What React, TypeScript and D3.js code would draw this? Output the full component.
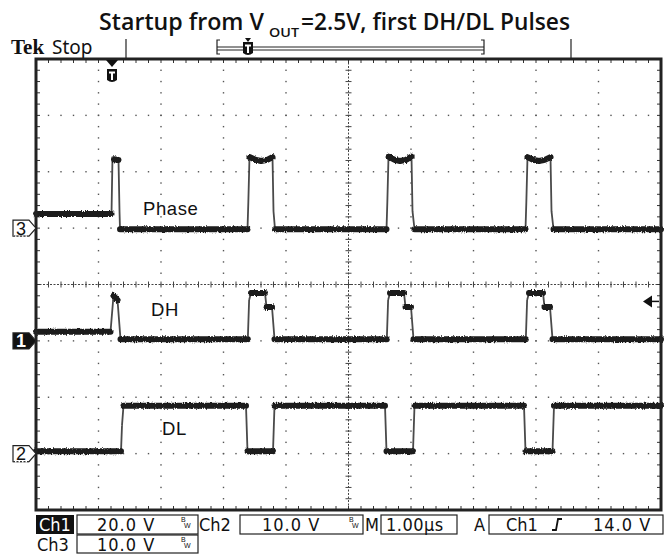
import React from "react";
import * as d3 from "d3";

// ---- Data (time in µs from left edge of graticule, values in volts) ----
const phaseT = [0, 1.208, 1.224, 1.248, 1.32, 1.336, 1.344, 3.384, 3.397, 3.416, 3.52, 3.6, 3.7, 3.784, 3.8, 3.824, 5.608, 5.621, 5.64, 5.74, 5.824, 5.92, 6.008, 6.024, 6.056, 7.832, 7.845, 7.864, 7.96, 8.048, 8.14, 8.232, 8.248, 8.28, 10];
const phaseV = [2.5, 2.5, 12.7, 12.2, 12.1, 3, -0.2, -0.2, 4.5, 12.6, 12.1, 11.9, 12.1, 12.6, 3, -0.2, -0.2, 4.5, 12.7, 12.1, 11.9, 12.1, 12.7, 3, -0.2, -0.2, 4.5, 12.6, 12.1, 11.9, 12.1, 12.6, 3, -0.2, -0.2];

const dhT = [0, 1.192, 1.24, 1.304, 1.352, 3.389, 3.41, 3.44, 3.664, 3.688, 3.776, 3.816, 5.613, 5.634, 5.664, 5.888, 5.912, 6.0, 6.04, 7.837, 7.858, 7.888, 8.112, 8.136, 8.224, 8.264, 10];
const dhV = [3.2, 3.2, 16, 14.5, 0.6, 0.6, 14.5, 17, 17, 12, 12, 0.6, 0.6, 14.5, 17, 17, 12, 12, 0.6, 0.6, 14.5, 17, 17, 12, 12, 0.6, 0.6];

const dlT = [0, 1.36, 1.376, 1.4, 3.36, 3.384, 3.792, 3.816, 5.584, 5.608, 6.032, 6.056, 7.808, 7.832, 8.264, 8.288, 10];
const dlV = [0.4, 0.4, 5, 8.5, 8.5, 0.4, 0.4, 8.5, 8.5, 0.4, 0.4, 8.5, 8.5, 0.4, 0.4, 8.5, 8.5];

// channel settings: volts/div and ground position in divisions from centre
const channelNames = ["Ch1", "Ch2", "Ch3"];
const channelScales = [20, 10, 10];
const channelGround = [-1, -3, 1];
const traceLabels = ["Phase", "DH", "DL"];
const titleParts = ["Startup from V", "OUT", "=2.5V, first DH/DL Pulses"];
const timeDomain = [0, 10];
const divDomain = [-4, 4];
const triggerTime = 1.216;
const triggerLevel = 14;

const W = 671, H = 554;
const L = 36, R = 661, T = 59, B = 510;

export default function App() {
  const x = d3.scaleLinear().domain(timeDomain).range([L, R]);
  const yd = d3.scaleLinear().domain(divDomain).range([B, T]);
  const chY = (ch: number) => (v: number) => yd(channelGround[ch] + v / channelScales[ch]);

  const mk = (ts: number[], vs: number[], ch: number) => {
    const f = chY(ch);
    const pts = ts.map((t, i) => [x(t), f(vs[i])] as [number, number]);
    const pairs = d3.pairs(pts);
    const isFlat = ([a, b]: [number, number][]) => Math.abs(b[1] - a[1]) <= 1.2 * Math.abs(b[0] - a[0]);
    const line = d3.line();
    return {
      flat: pairs.filter((p) => isFlat(p)).map((p) => line(p)).join(" "),
      steep: pairs.filter((p) => !isFlat(p)).map((p) => line(p)).join(" "),
    };
  };
  const traces = [mk(phaseT, phaseV, 2), mk(dhT, dhV, 0), mk(dlT, dlV, 1)];

  const dx = (R - L) / 10, dy = (B - T) / 8;
  const dots: JSX.Element[] = [];
  for (let i = 1; i < 10; i++) {
    if (i === 5) continue;
    const gx = L + i * dx;
    for (let k = 1; k < 40; k++) {
      dots.push(<rect key={`v${i}-${k}`} x={gx - 0.7} y={T + k * dy / 5 - 0.7} width={1.4} height={1.4} fill="#555" />);
    }
  }
  for (let j = 1; j < 8; j++) {
    if (j === 4) continue;
    const gy = T + j * dy;
    for (let k = 1; k < 50; k++) {
      dots.push(<rect key={`h${j}-${k}`} x={L + k * dx / 5 - 0.7} y={gy - 0.7} width={1.4} height={1.4} fill="#555" />);
    }
  }
  const ticks: JSX.Element[] = [];
  const cx = L + 5 * dx, cy = T + 4 * dy;
  for (let k = 1; k < 50; k++) {
    const tx = L + k * dx / 5;
    ticks.push(<line key={`tt${k}`} x1={tx} x2={tx} y1={T} y2={T + 4} stroke="#333" strokeWidth={1} />);
    ticks.push(<line key={`tb${k}`} x1={tx} x2={tx} y1={B} y2={B - 4} stroke="#333" strokeWidth={1} />);
    ticks.push(<line key={`tc${k}`} x1={tx} x2={tx} y1={cy - 3} y2={cy + 3} stroke="#444" strokeWidth={1} />);
  }
  for (let k = 1; k < 40; k++) {
    const ty = T + k * dy / 5;
    ticks.push(<line key={`tl${k}`} x1={L} x2={L + 4} y1={ty} y2={ty} stroke="#333" strokeWidth={1} />);
    ticks.push(<line key={`tr${k}`} x1={R} x2={R - 4} y1={ty} y2={ty} stroke="#333" strokeWidth={1} />);
    ticks.push(<line key={`tcv${k}`} x1={cx - 3} x2={cx + 3} y1={ty} y2={ty} stroke="#444" strokeWidth={1} />);
  }

  const g3 = chY(2)(0), g1 = chY(0)(0), g2 = chY(1)(0);
  const marker = (y: number, label: string, filled: boolean) => (
    <g>
      <path d={`M13,${y - 8} L29,${y - 8} L36,${y} L29,${y + 8} L13,${y + 8} Z`} fill={filled ? "#111" : "#fff"} stroke="#222" strokeWidth={1.2} />
      {!filled && <line x1={13} x2={29} y1={y + 8} y2={y + 8} stroke="#fff" strokeWidth={1.4} />}
      {!filled && <line x1={13} x2={29} y1={y + 8} y2={y + 8} stroke="#333" strokeWidth={1.2} strokeDasharray="2,1.5" />}
      <text x={21} y={y + 6.5} textAnchor="middle" fontFamily="'Liberation Sans', Arial" fontSize={18} fontWeight={filled ? 700 : 400} fill={filled ? "#fff" : "#111"}>{label}</text>
    </g>
  );

  const trigX = x(triggerTime);
  const trigLevelY = chY(0)(triggerLevel);
  const sbFont = "'DejaVu Sans Condensed', 'Liberation Sans Narrow', 'Liberation Sans', Arial";
  const bw = (bx: number, by: number) => (
    <g fontFamily="'Liberation Sans', Arial" fontSize={7} fill="#111">
      <text x={bx} y={by}>B</text>
      <text x={bx + 3} y={by + 6}>W</text>
    </g>
  );
  const shield = (sx: number, sy: number) => (
    <g>
      <path d={`M${sx - 5},${sy} L${sx + 5},${sy} L${sx + 5},${sy + 11} Q${sx},${sy + 15} ${sx - 5},${sy + 11} Z`} fill="#111" />
      <path d={`M${sx - 3},${sy + 2.5} L${sx + 3},${sy + 2.5} L${sx + 3},${sy + 4.5} L${sx + 1},${sy + 4.5} L${sx + 1},${sy + 11} L${sx - 1},${sy + 11} L${sx - 1},${sy + 4.5} L${sx - 3},${sy + 4.5} Z`} fill="#fff" />
    </g>
  );
  const titleFont = "'Open Sans', 'Noto Sans', sans-serif";

  return (
    <svg width={W} height={H} style={{ position: "absolute", left: 0, top: 0, background: "#fff" }}>
      <defs>
        <filter id="fuzz" x="-2%" y="-30%" width="104%" height="160%">
          <feTurbulence type="fractalNoise" baseFrequency="0.9 0.5" numOctaves={2} seed={7} result="n" />
          <feColorMatrix in="n" type="matrix" values="0 0 0 0 0.5  0 1 0 0 0  0 0 1 0 0  0 0 0 0 1" result="m" />
          <feDisplacementMap in="SourceGraphic" in2="m" scale={3.5} xChannelSelector="R" yChannelSelector="G" />
        </filter>
      </defs>
      <rect width={W} height={H} fill="#fff" />
      {/* title */}
      <g fontFamily={titleFont} fontWeight={600} fill="#111">
        <text x={99} y={30} fontSize={24} textLength={165} lengthAdjust="spacingAndGlyphs">{titleParts[0]}</text>
        <text x={269} y={37} fontSize={13} textLength={30} lengthAdjust="spacingAndGlyphs">{titleParts[1]}</text>
        <text x={301} y={30} fontSize={24} textLength={269} lengthAdjust="spacingAndGlyphs">{titleParts[2]}</text>
      </g>
      {/* Tek Stop */}
      <text x={11} y={54} fontFamily="'Liberation Serif', 'DejaVu Serif', serif" fontWeight={700} fontSize={21} fill="#111">Tek</text>
      <text x={52} y={54} fontFamily="'Noto Sans', 'Open Sans', sans-serif" fontSize={19} fill="#111">Stop</text>
      {/* top record bar */}
      <line x1={126} x2={126} y1={39} y2={59} stroke="#222" strokeWidth={1.2} />
      <line x1={571} x2={571} y1={39} y2={59} stroke="#222" strokeWidth={1.2} />
      <path d="M220,40 L217,40 L217,54 L220,54" fill="none" stroke="#222" strokeWidth={1.2} />
      <path d="M481,40 L484,40 L484,54 L481,54" fill="none" stroke="#222" strokeWidth={1.2} />
      <line x1={217} x2={484} y1={47} y2={47} stroke="#222" strokeWidth={1} />
      <line x1={217} x2={484} y1={50} y2={50} stroke="#222" strokeWidth={1} />
      <path d="M245,38 L251,38 L248,42 Z" fill="#111" />
      {shield(248, 42)}

      {/* graticule */}
      {dots}
      <line x1={L} x2={R} y1={cy} y2={cy} stroke="#444" strokeWidth={1} strokeDasharray="2,1.5" />
      <line x1={cx} x2={cx} y1={T} y2={B} stroke="#444" strokeWidth={1} strokeDasharray="2,1.5" />
      {ticks}

      {/* traces */}
      <g fill="none" strokeLinejoin="round">
        {traces.map((tr, i) => (
          <g key={i}>
            <path d={tr.steep} stroke="#4a4a4a" strokeWidth={1.8} />
            <path d={tr.flat} stroke="#1b1b1b" strokeWidth={6} strokeLinecap="round" filter="url(#fuzz)" />
          </g>
        ))}
      </g>

      {/* trace labels */}
      <g fontFamily="'Liberation Sans', Arial" fontSize={18.5} fill="#111" letterSpacing={0.6}>
        <text x={143} y={215}>{traceLabels[0]}</text>
        <text x={151} y={316}>{traceLabels[1]}</text>
        <text x={162} y={435}>{traceLabels[2]}</text>
      </g>

      {/* frame */}
      <rect x={L} y={T} width={R - L} height={B - T} fill="none" stroke="#222" strokeWidth={3} />

      {/* trigger position marker */}
      <path d={`M${trigX - 6},${T + 1} L${trigX + 6},${T + 1} L${trigX},${T + 8} Z`} fill="#111" />
      {shield(trigX, T + 10)}

      {/* trigger level arrow */}
      <path d={`M643,${trigLevelY} L652,${trigLevelY - 6} L652,${trigLevelY + 6} Z`} fill="#111" />
      <line x1={650} x2={659} y1={trigLevelY} y2={trigLevelY} stroke="#111" strokeWidth={1.5} />

      {/* channel ground markers */}
      {marker(g3, "3", false)}
      {marker(g1, "1", true)}
      {marker(g2, "2", false)}

      {/* status bar */}
      <g fontFamily={sbFont} fontSize={18} fill="#111">
        <rect x={36} y={515} width={38} height={19} fill="#111" />
        <text x={39} y={531} fill="#fff">{channelNames[0]}</text>
        <rect x={77} y={515} width={121} height={19} fill="none" stroke="#222" strokeWidth={1.2} />
        <text x={97} y={531} letterSpacing={1}>{`${channelScales[0].toFixed(1)} V`}</text>
        {bw(181, 522)}
        <text x={199} y={531}>{channelNames[1]}</text>
        <rect x={240} y={515} width={123} height={19} fill="none" stroke="#222" strokeWidth={1.2} />
        <text x={262} y={531} letterSpacing={1}>{`${channelScales[1].toFixed(1)} V`}</text>
        {bw(349, 522)}
        <text x={365} y={531}>M</text>
        <rect x={381} y={515} width={76} height={19} fill="none" stroke="#222" strokeWidth={1.2} />
        <text x={386} y={531} letterSpacing={0.5}>1.00µs</text>
        <text x={474} y={531}>A</text>
        <rect x={489} y={515} width={174} height={19} fill="none" stroke="#222" strokeWidth={1.2} />
        <text x={506} y={531}>{channelNames[0]}</text>
        <path d="M552,530 L556,530 L558,519 L562,519" fill="none" stroke="#111" strokeWidth={1.8} />
        <text x={593} y={531} letterSpacing={1}>{`${triggerLevel.toFixed(1)} V`}</text>
        <text x={37} y={551}>{channelNames[2]}</text>
        <rect x={77} y={535} width={121} height={18} fill="none" stroke="#222" strokeWidth={1.2} />
        <text x={97} y={551} letterSpacing={1}>{`${channelScales[2].toFixed(1)} V`}</text>
        {bw(181, 542)}
      </g>
    </svg>
  );
}
